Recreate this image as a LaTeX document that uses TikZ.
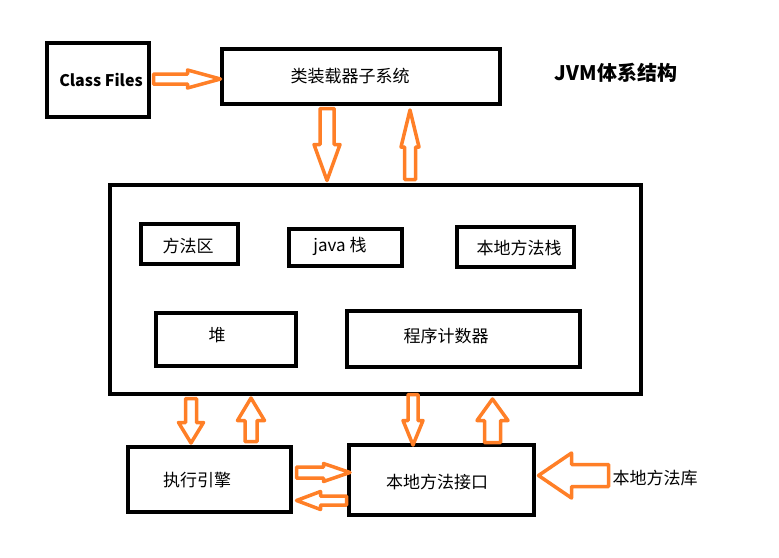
\documentclass[tikz,border=0pt]{standalone}
\usepackage{fontspec}
\setmainfont{Noto Sans CJK SC}
\definecolor{paintorange}{HTML}{FF7F27}
\newcommand\barrow[6]{%
  \draw[arrowline, shift={#1}, rotate=#2]
    (0,-#4) -- (#3-#6,-#4) -- (#3-#6,-#5) -- (#3,0) -- (#3-#6,#5) -- (#3-#6,#4) -- (0,#4) -- cycle;}
\begin{document}
\begin{tikzpicture}[x=1pt,y=-1pt,
  box/.style={draw=black, line width=4pt, fill=white, inner sep=0pt, rectangle},
  lbl/.style={inner sep=0pt, font=\fontsize{17}{20}\selectfont},
  arrowline/.style={draw=paintorange, line width=3.5pt, line join=round, fill=white}]
\useasboundingbox (0,0) rectangle (779,557);
% boxes
\node[box, minimum width=102pt, minimum height=74pt] (cf) at (98,80) {};
\node[box, minimum width=278pt, minimum height=55pt] (loader) at (361,76.5) {};
\node[box, minimum width=531pt, minimum height=209pt] (jvm) at (375.5,289.5) {};
\node[box, minimum width=97pt, minimum height=40pt] (ma) at (189.5,244) {};
\node[box, minimum width=113pt, minimum height=37pt] (js) at (345.5,247.5) {};
\node[box, minimum width=117pt, minimum height=40pt] (ns) at (515.5,247) {};
\node[box, minimum width=140pt, minimum height=53pt] (heap) at (226,339.5) {};
\node[box, minimum width=233pt, minimum height=56pt] (pc) at (463.5,339) {};
\node[box, minimum width=163pt, minimum height=65pt] (ee) at (209.5,479.5) {};
\node[box, minimum width=185pt, minimum height=70pt] (ni) at (441.5,480) {};
% labels
\node[lbl, font=\fontsize{16}{19}\selectfont\bfseries] (tcf) at (101,80) {Class Files};
\node[lbl] (tloader) at (350,76) {类装载器子系统};
\node[lbl] (tma) at (188,246) {方法区};
\node[lbl] (tjs) at (340,246) {java 栈};
\node[lbl] (tns) at (519,248) {本地方法栈};
\node[lbl] (theap) at (217,335) {堆};
\node[lbl] (tpc) at (446,336) {程序计数器};
\node[lbl] (tee) at (197,480) {执行引擎};
\node[lbl] (tni) at (437,482) {本地方法接口};
\node[lbl] (tlib) at (655,478) {本地方法库};
\node[lbl, font=\fontsize{20}{24}\selectfont\bfseries] (title) at (616,73) {JVM体系结构};
% block arrows
\barrow{(153.5,79)}{0}{67}{5}{9}{33}
\barrow{(327,108.5)}{-90}{72}{7}{13}{36}
\barrow{(410,179.5)}{90}{69.5}{5.5}{9}{37}
\barrow{(191,398.5)}{-90}{44.5}{5.5}{12.5}{20.5}
\barrow{(251,441.5)}{90}{43.5}{6}{13.5}{22.5}
\barrow{(413,394.5)}{-90}{50.5}{5}{10}{24.5}
\barrow{(492.5,442.5)}{90}{43.5}{8}{15.5}{21.5}
\barrow{(296.5,472.5)}{0}{53.5}{5.5}{9}{26.5}
\barrow{(346.5,500.5)}{180}{50}{4.5}{9}{24}
\barrow{(608.5,475.5)}{180}{70}{11}{22.5}{33}
\end{tikzpicture}
\end{document}
